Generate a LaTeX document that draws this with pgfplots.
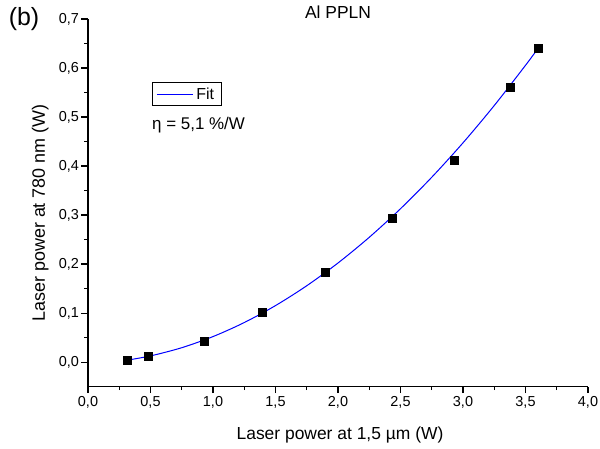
\documentclass[border=0pt]{standalone}
\usepackage{pgfplots}
\pgfplotsset{compat=1.18}
\usepackage{fontspec}
\setmainfont{Liberation Sans}
\begin{document}
\begin{tikzpicture}
\begin{axis}[name=ax, scale only axis, width=500bp, height=367.7bp,
  xmin=0, xmax=4, ymin=-0.05, ymax=0.7,
  clip=false,
  axis x line=bottom, axis y line=left,
  axis line style={-, line width=1.3bp, black},
  tick align=outside, major tick length=6.5bp, minor tick length=3.5bp,
  every tick/.style={black, line width=1.3bp},
  xtick={0,0.5,1,1.5,2,2.5,3,3.5,4},
  xticklabels={{0,0},{0,5},{1,0},{1,5},{2,0},{2,5},{3,0},{3,5},{4,0}},
  ytick={0,0.1,0.2,0.3,0.4,0.5,0.6,0.7},
  yticklabels={{0,0},{0,1},{0,2},{0,3},{0,4},{0,5},{0,6},{0,7}},
  minor x tick num=1, minor y tick num=1,
  xticklabel style={font=\fontsize{14.5}{16}\selectfont},
  yticklabel style={font=\fontsize{14.5}{16}\selectfont, xshift=1bp},
  legend style={at={(axis cs:0.512,0.571)}, anchor=north west, draw=black, line width=0.8bp,
    font=\fontsize{16}{18}\selectfont, inner xsep=4bp, inner ysep=2.5bp,
    nodes={inner xsep=3bp, inner ysep=2.5bp}},
  legend image code/.code={\draw[#1] (0bp,0bp) -- (36bp,0bp);},
]
\addplot[blue, line width=1bp, smooth, no marks] coordinates {
(0.31,0.0040) (0.5,0.0128) (0.75,0.0295) (1.0,0.0522) (1.25,0.0808) (1.5,0.1154)
(1.75,0.1559) (2.0,0.2023) (2.25,0.2547) (2.5,0.3130) (2.75,0.3772) (3.0,0.4474)
(3.25,0.5235) (3.5,0.6055) (3.6,0.6400)};
\addlegendentry{Fit}
\addplot[forget plot, only marks, mark=square*, mark size=4bp, mark options={black, fill=black}] coordinates {
(0.31,0.004) (0.48,0.012) (0.93,0.043) (1.39,0.101) (1.90,0.183)
(2.43,0.294) (2.93,0.412) (3.38,0.561) (3.60,0.640)};
\node[anchor=west, inner sep=0, font=\fontsize{17}{19}\selectfont] at (axis cs:0.512,0.484) {η = 5,1 \%/W};
\end{axis}
\node[font=\fontsize{25}{27}\selectfont] at ([shift={(-64bp,0bp)}]ax.north west) {(b)};
\node[anchor=base, inner sep=0, font=\fontsize{17.5}{20}\selectfont] at (ax.north) {Al PPLN};
\node[anchor=base, inner sep=0, font=\fontsize{17.5}{20}\selectfont] at ([shift={(252bp,-53.3bp)}]ax.south west) {Laser power at 1,5 µm (W)};
\node[anchor=base, rotate=90, inner sep=0, font=\fontsize{18}{20}\selectfont] at ([shift={(-43bp,173.7bp)}]ax.south west) {Laser power at 780 nm (W)};
\pgfresetboundingbox
\path ([shift={(-88bp,-62.3bp)}]ax.south west) rectangle ([shift={(12bp,19bp)}]ax.north east);
\end{tikzpicture}
\end{document}
